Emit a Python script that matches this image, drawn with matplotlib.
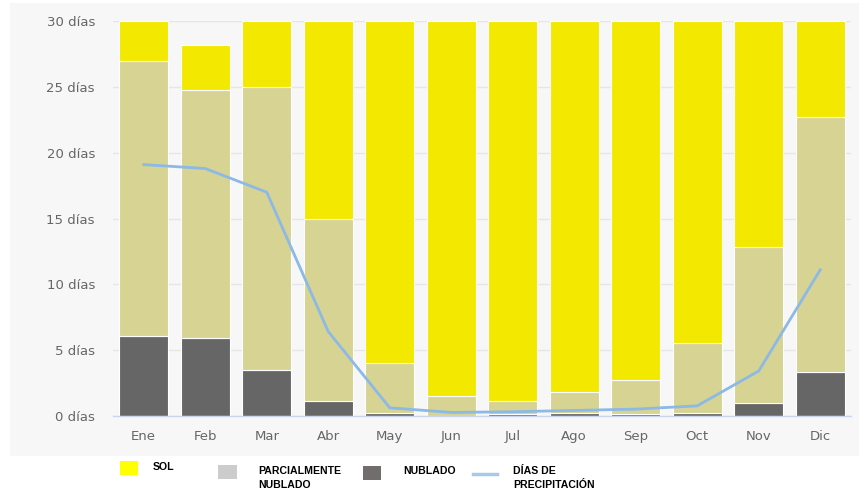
import matplotlib
matplotlib.use('Agg')
from matplotlib import pyplot as plt
from matplotlib.patches import Rectangle
from matplotlib.lines import Line2D
import numpy as np

meses = ['Ene', 'Feb', 'Mar', 'Abr', 'May', 'Jun', 'Jul', 'Ago', 'Sep', 'Oct', 'Nov', 'Dic']
# días por mes, por segmento (de abajo hacia arriba)
nublado = [6.1, 5.9, 3.5, 1.1, 0.2, 0.0, 0.1, 0.2, 0.1, 0.2, 1.0, 3.3]
parcial = [20.9, 18.9, 21.5, 13.9, 3.8, 1.5, 1.0, 1.6, 2.6, 5.3, 11.8, 19.4]
sol = [3.0, 3.4, 5.0, 15.0, 26.0, 28.5, 28.9, 28.2, 27.3, 24.5, 17.2, 7.3]
precip = [19.1, 18.8, 17.0, 6.4, 0.6, 0.25, 0.3, 0.4, 0.5, 0.75, 3.4, 11.1]
yticks = [0, 5, 10, 15, 20, 25, 30]

c_sol = '#f3e800'
c_parcial = '#d6d393'
c_nublado = '#666666'
c_linea = '#8cb9e6'

W, H = 859, 497
fig = plt.figure(figsize=(W / 100, H / 100), dpi=100)
fig.patch.set_facecolor('white')
# fondo gris del área del gráfico
fig.patches.append(Rectangle((10 / W, 1 - 456 / H), 849 / W, 453 / H,
                             transform=fig.transFigure, facecolor='#f7f7f7',
                             edgecolor='none', zorder=-5))

ax = fig.add_axes([113 / W, 1 - 415.7 / H, 738 / W, 394.4 / H])
ax.set_facecolor('none')
ax.set_zorder(2)

x = np.arange(len(meses))
nub = np.array(nublado)
par = np.array(parcial)
so = np.array(sol)
kw = dict(width=0.8, edgecolor='white', linewidth=0.8, zorder=2)
ax.bar(x, nub, color=c_nublado, **kw)
ax.bar(x, par, bottom=nub, color=c_parcial, **kw)
ax.bar(x, so, bottom=nub + par, color=c_sol, **kw)
ax.plot(x, precip, color=c_linea, lw=2, zorder=3)

ax.set_xlim(-0.5, 11.5)
ax.set_ylim(0, 30)
ax.set_yticks(yticks)
ax.set_yticklabels([f'{v} días' for v in yticks])
ax.set_xticks(x)
ax.set_xticklabels(meses)
ax.tick_params(axis='both', length=0, colors='#666666', labelsize=9.5)
ax.tick_params(axis='y', pad=13)
ax.tick_params(axis='x', pad=10)
ax.grid(axis='y', color='#e6e6e6', lw=1, zorder=0)
ax.set_axisbelow(True)
for s in ['top', 'right', 'left']:
    ax.spines[s].set_visible(False)
ax.spines['bottom'].set_color('#ccd6eb')
ax.spines['bottom'].set_linewidth(1)

# leyenda manual
def fx(px):
    return px / W

def fy(py):
    return 1 - py / H

fig.patches.append(Rectangle((fx(120), fy(475)), 18 / W, 14 / H, transform=fig.transFigure,
                             facecolor='#ffff00', edgecolor='none'))
fig.patches.append(Rectangle((fx(218), fy(479)), 19 / W, 14 / H, transform=fig.transFigure,
                             facecolor='#cccccc', edgecolor='none'))
fig.patches.append(Rectangle((fx(363), fy(480)), 18 / W, 14 / H, transform=fig.transFigure,
                             facecolor='#726d6d', edgecolor='none'))
fig.lines.append(Line2D([fx(473), fx(497)], [fy(474), fy(474)], transform=fig.transFigure,
                        color='#a9c8ea', lw=2.5))
tk = dict(fontfamily='Liberation Sans', fontweight='bold', fontsize=7.6, color='black',
          va='top', ha='left', linespacing=1.5)
fig.text(fx(153), fy(462), 'SOL', **tk)
fig.text(fx(258), fy(466), 'PARCIALMENTE\nNUBLADO', **tk)
fig.text(fx(403), fy(466), 'NUBLADO', **tk)
fig.text(fx(513), fy(466), 'DÍAS DE\nPRECIPITACIÓN', **tk)

fig.savefig('out.png', dpi=100)
